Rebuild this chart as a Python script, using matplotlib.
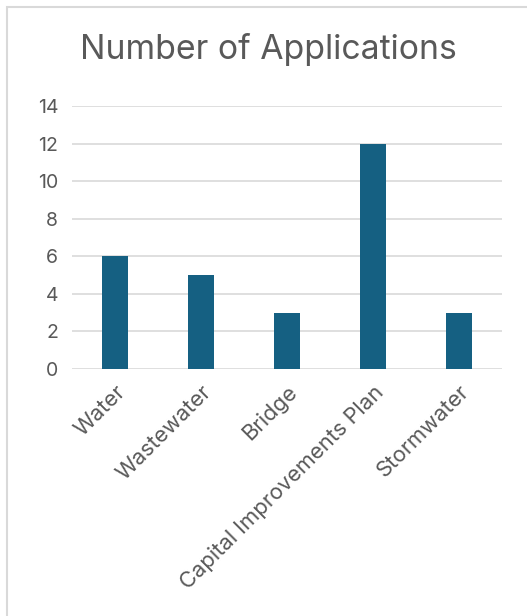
import matplotlib
matplotlib.use("Agg")
import matplotlib.pyplot as plt
from matplotlib.patches import Rectangle

categories = ["Water", "Wastewater", "Bridge", "Capital Improvements Plan", "Stormwater"]
values = [6, 5, 3, 12, 3]
yticks = [0, 2, 4, 6, 8, 10, 12, 14]

plt.rcParams['font.family'] = ['Inter', 'DejaVu Sans']
W, H = 527, 616
fig = plt.figure(figsize=(W/100, H/100), dpi=100)

# outer chart border (cropped at right and bottom)
fig.patches.append(Rectangle((7/W, -0.1), 1.2, 1 - 7/H + 0.1, transform=fig.transFigure,
                             fill=False, edgecolor='#d9d9d9', linewidth=1.5))

ax = fig.add_axes([72/W, 1 - 369/H, (502-72)/W, (369-106)/H])
x = list(range(len(categories)))
ax.bar(x, values, width=0.31, color='#156082', zorder=3)
ax.set_xlim(-0.5, len(categories) - 0.5)
ax.set_ylim(0, 14)
ax.set_yticks(yticks)
ax.set_yticklabels([str(t) for t in yticks], fontsize=14, color='#595959')
ax.set_xticks(x)
ax.set_xticklabels(categories, rotation=45, ha='right', rotation_mode='anchor',
                   fontsize=15.8, color='#595959')
ax.tick_params(axis='both', length=0)
ax.tick_params(axis='y', pad=10)
ax.tick_params(axis='x', pad=9)
ax.grid(axis='y', color='#d9d9d9', linewidth=1.2, zorder=0)
for s in ax.spines.values():
    s.set_visible(False)

fig.text(268/W, 1 - 50/H, "Number of Applications", ha='center', va='center',
         fontsize=24.3, color='#595959')

fig.savefig("out.png", dpi=100)
